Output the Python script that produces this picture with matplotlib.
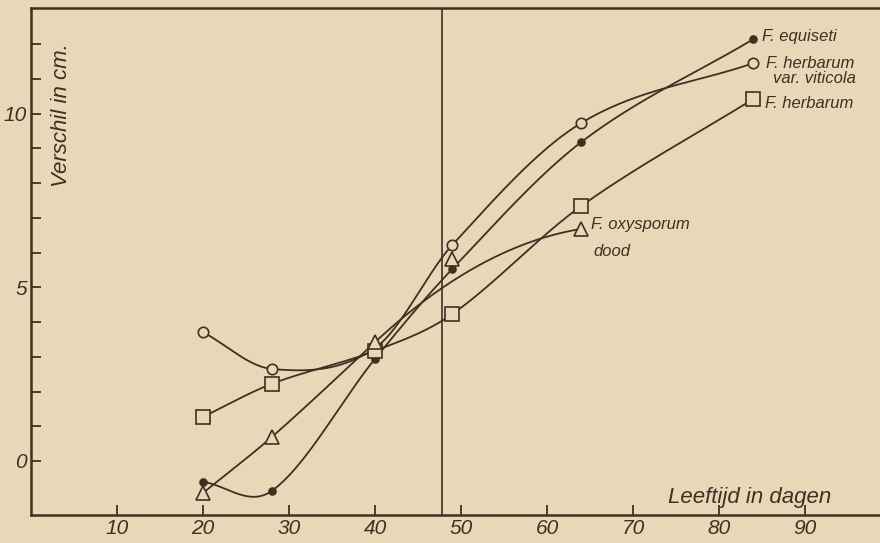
import numpy as np
import matplotlib
matplotlib.use("Agg")
import matplotlib.pyplot as plt

# days of age at which the measurements were made
days = [20, 28, 40, 49, 64, 84]
days_oxy = [20, 28, 40, 49, 64]

# difference in cm
equiseti = [-0.60, -0.86, 2.94, 5.53, 9.18, 12.14]
viticola = [3.71, 2.65, 3.25, 6.22, 9.73, 11.45]
herbarum = [1.27, 2.22, 3.17, 4.23, 7.34, 10.42]
oxysporum = [-0.92, 0.69, 3.42, 5.81, 6.68]
# in the original the oxysporum curve is drawn past the day-49 point,
# bending over towards day 64
oxy_curve_skip = 49
oxy_tangents = {40: 0.23, 64: 0.04}

x_ticks = [10, 20, 30, 40, 50, 60, 70, 80, 90]
y_ticks = [0, 5, 10]
divider_day = 47.8

PAPER = "#e8d8b7"
INK = "#3e3122"
FONT = ["Liberation Sans", "DejaVu Sans"]


def smooth(x, y, tangents=None, n=200):
    """Cubic Hermite through the points (finite-difference slopes)."""
    x = np.asarray(x, float)
    y = np.asarray(y, float)
    h = np.diff(x)
    d = np.diff(y) / h
    m = np.empty_like(y)
    m[1:-1] = (y[2:] - y[:-2]) / (x[2:] - x[:-2])
    m[0] = d[0]
    m[-1] = d[-1]
    for k, xv in enumerate(x):
        if tangents and xv in tangents:
            m[k] = tangents[xv]
    xs, ys = [], []
    for k in range(len(x) - 1):
        t = np.linspace(0, 1, n)
        h00 = 2 * t**3 - 3 * t**2 + 1
        h10 = t**3 - 2 * t**2 + t
        h01 = -2 * t**3 + 3 * t**2
        h11 = t**3 - t**2
        xs.append(x[k] + t * h[k])
        ys.append(h00 * y[k] + h10 * h[k] * m[k] + h01 * y[k + 1] + h11 * h[k] * m[k + 1])
    return np.concatenate(xs), np.concatenate(ys)


fig = plt.figure(figsize=(8.8, 5.43), dpi=100)
fig.patch.set_facecolor(PAPER)
ax = fig.add_axes([31 / 880, 1 - 515 / 543, (880 - 31) / 880, (515 - 8) / 543])
ax.set_facecolor(PAPER)

oxy_cx = [d for d in days_oxy if d != oxy_curve_skip]
oxy_cy = [v for d, v in zip(days_oxy, oxysporum) if d != oxy_curve_skip]

series = [
    (days, equiseti, days, equiseti, None, dict(marker="o", ms=5, mfc=INK)),
    (days, viticola, days, viticola, None, dict(marker="o", ms=7.5, mfc=PAPER)),
    (days, herbarum, days, herbarum, None, dict(marker="s", ms=10, mfc=PAPER)),
    (days_oxy, oxysporum, oxy_cx, oxy_cy, oxy_tangents, dict(marker="^", ms=9.5, mfc=PAPER)),
]
for xs, ys, lx, ly, tang, style in series:
    cx, cy = smooth(lx, ly, tang)
    ax.plot(cx, cy, color=INK, lw=1.3, zorder=2)
    ax.plot(xs, ys, ls="none", mec=INK, mew=1.2, zorder=3, **style)

ax.axvline(divider_day, color=INK, lw=1.2, zorder=1)

ax.set_xlim(0, (880 - 31) / 8.6)
ax.set_ylim((461 - 515) / 34.75, (461 - 8) / 34.75)

ax.set_xticks(x_ticks)
ax.set_xticklabels([str(t) for t in x_ticks])
ax.set_yticks(y_ticks)
ax.set_yticklabels([str(t) for t in y_ticks])
ax.set_yticks(range(0, 13), minor=True)
ax.tick_params(axis="both", which="both", direction="in", length=7, width=1.3,
               colors=INK, labelsize=15, pad=3)
for lab in ax.get_xticklabels() + ax.get_yticklabels():
    lab.set_fontstyle("italic")
    lab.set_family(FONT)

for side in ["left", "bottom", "top"]:
    ax.spines[side].set_color(INK)
    ax.spines[side].set_linewidth(1.8)
ax.spines["right"].set_visible(False)

txt = dict(color=INK, style="italic", family=FONT, fontsize=12)
ax.text(0.0365, 0.789, "Verschil in cm.", transform=ax.transAxes, rotation=90,
        ha="center", va="center", color=INK, style="italic", family=FONT, fontsize=16)
ax.text(0.847, 0.0355, "Leeftijd in dagen", transform=ax.transAxes,
        ha="center", va="center", color=INK, style="italic", family=FONT, fontsize=16)

labels = [
    ("F. equiseti", days[-1], equiseti[-1], (6, 2)),
    ("F. herbarum", days[-1], viticola[-1], (9, 0)),
    ("var. viticola", days[-1], viticola[-1], (14, -11)),
    ("F. herbarum", days[-1], herbarum[-1], (8, -3)),
    ("F. oxysporum", days_oxy[-1], oxysporum[-1], (7, 3)),
    ("dood", days_oxy[-1], oxysporum[-1], (9, -16)),
]
for s, x, y, off in labels:
    ax.annotate(s, (x, y), xytext=off, textcoords="offset points",
                ha="left", va="center", **txt)

fig.savefig("out.png", dpi=100, facecolor=PAPER)
